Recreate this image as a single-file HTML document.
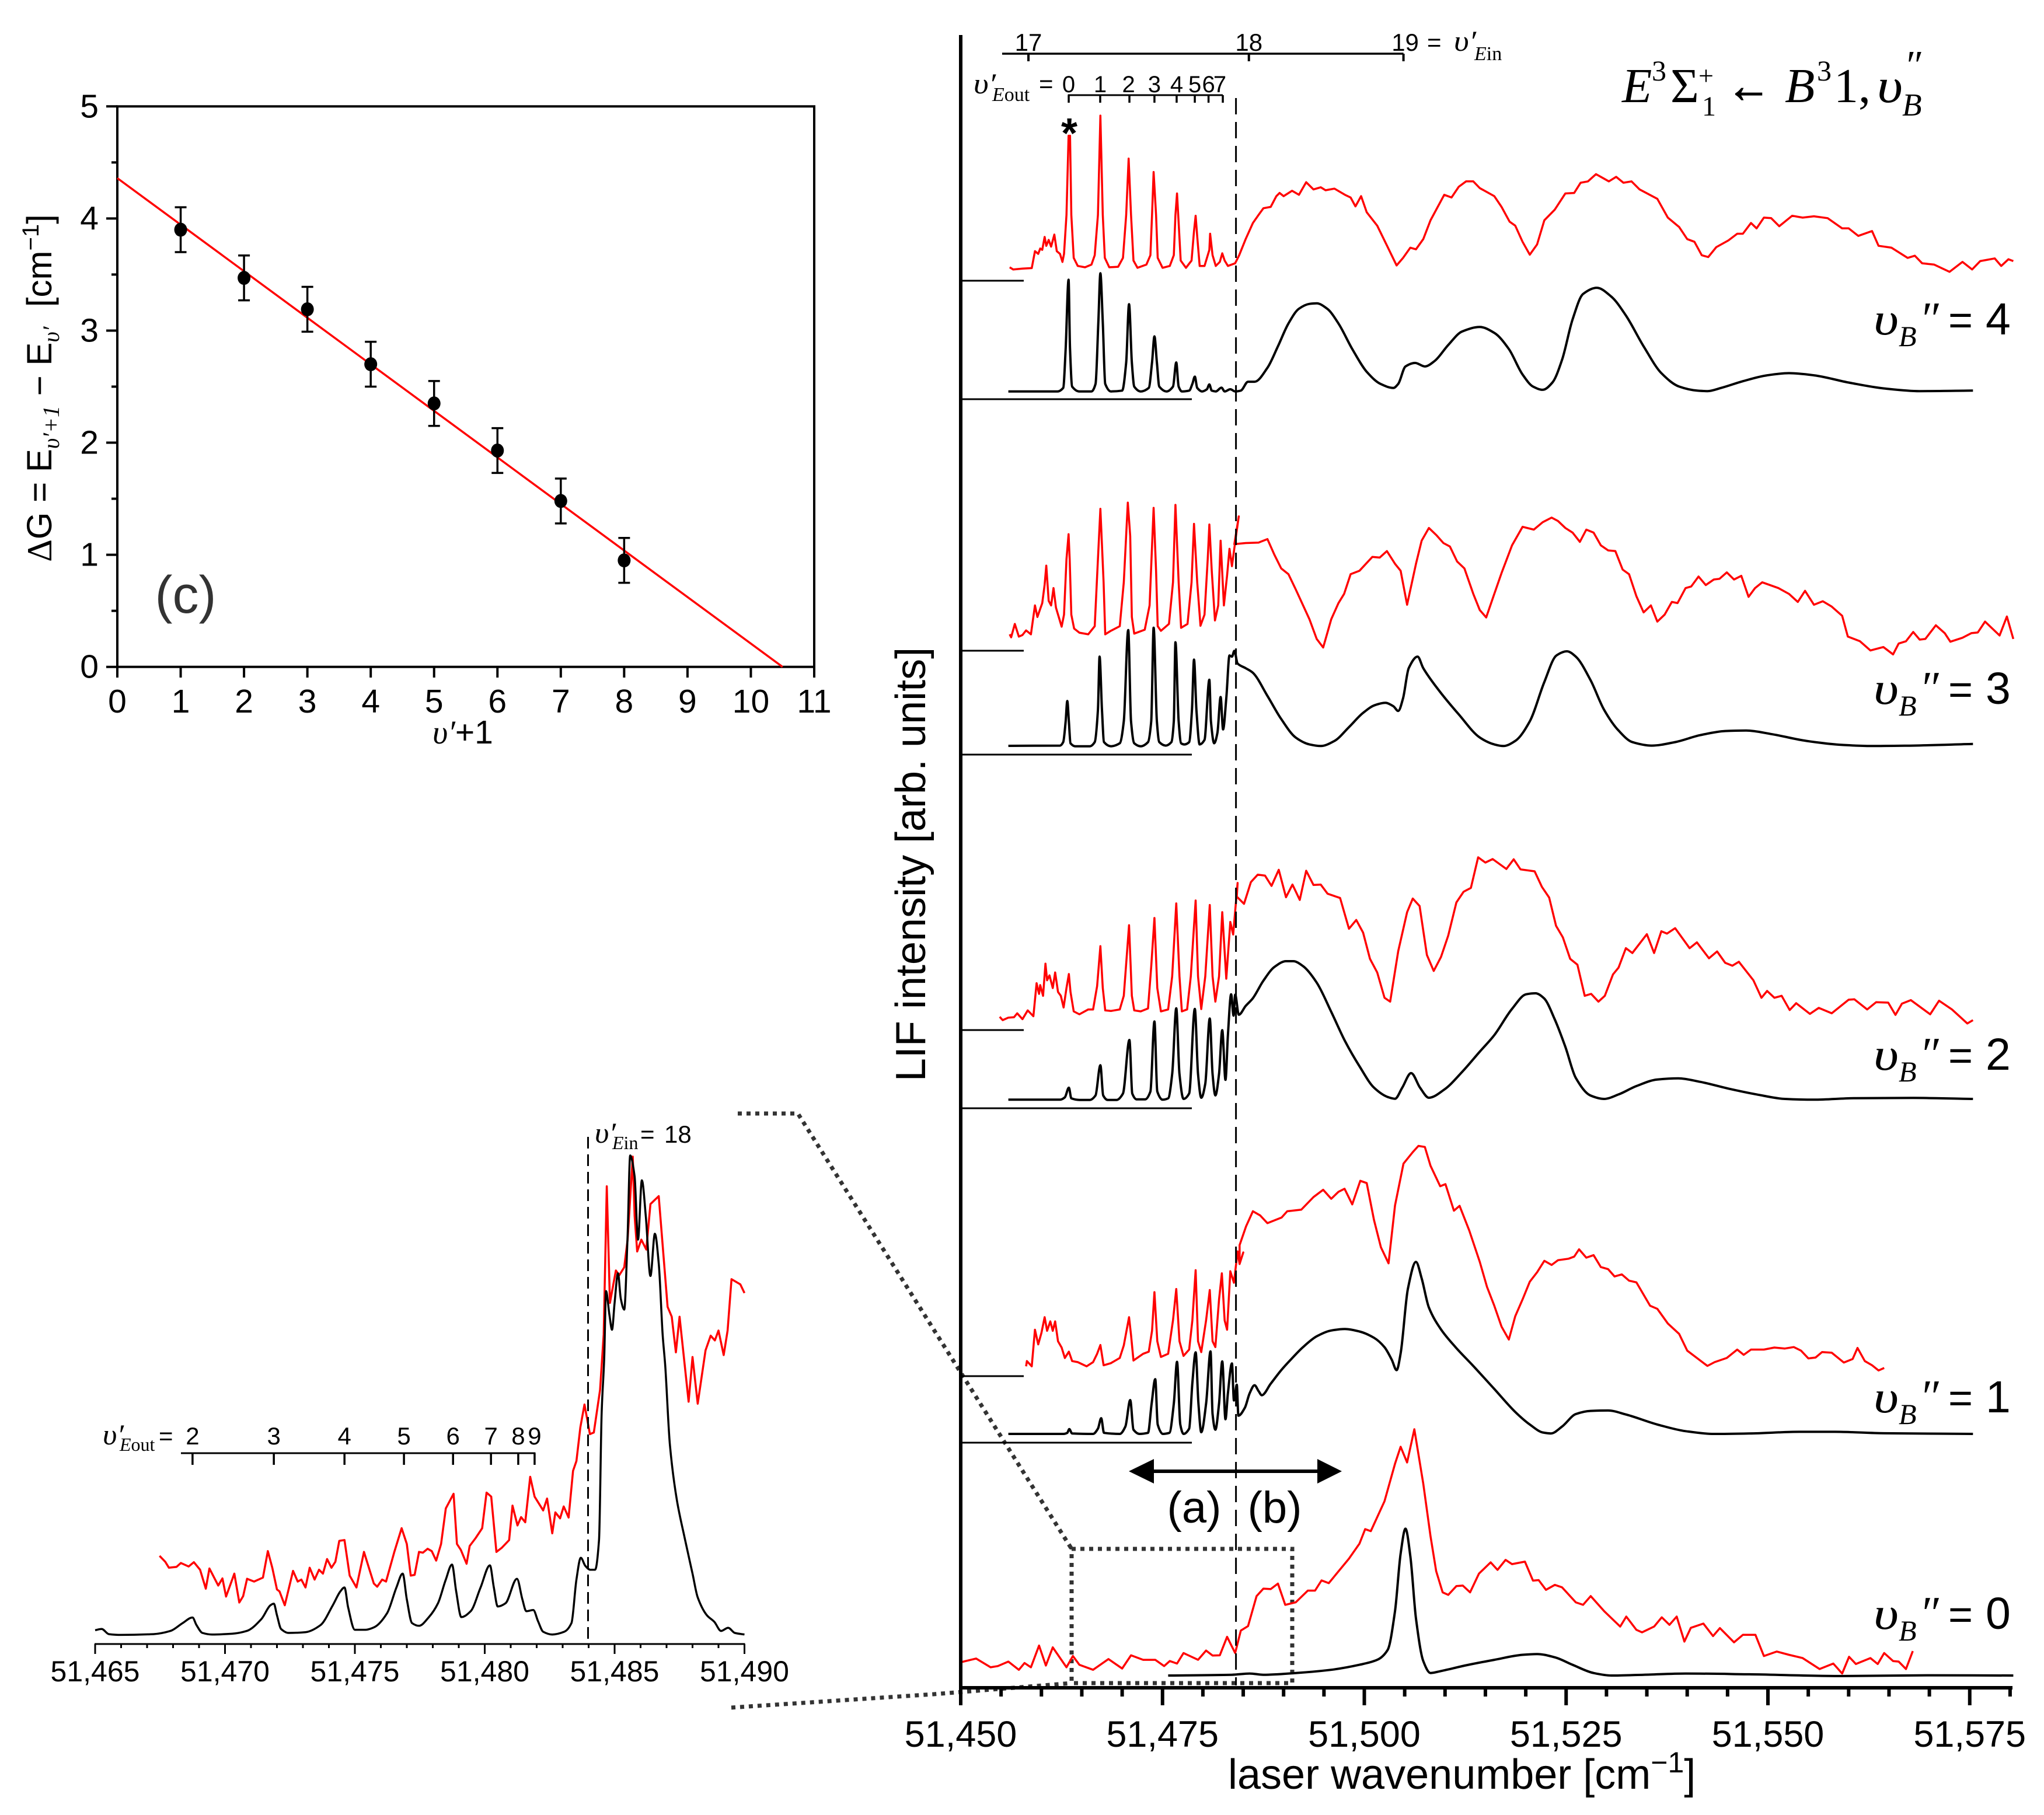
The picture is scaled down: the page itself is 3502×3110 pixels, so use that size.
<!DOCTYPE html>
<html lang="en">
<head>
<meta charset="utf-8">
<title>LIF spectra of the E-B band system</title>
<style>
html,body{margin:0;padding:0;background:#fff}
svg{display:block}
text{font-family:"Liberation Sans",sans-serif;fill:#000}
.s{font-family:"Liberation Serif",serif}
.i{font-family:"Liberation Serif",serif;font-style:italic}
</style>
</head>
<body>
<svg id="fig" xmlns="http://www.w3.org/2000/svg" width="3502" height="3110" viewBox="0 0 3502 3110">
<rect width="3502" height="3110" fill="#fff"/>

<g id="main">
<text transform="translate(1585,1481) rotate(-90)" text-anchor="middle" font-size="72">LIF intensity [arb. units]</text>
<text x="2104" y="3065" font-size="72">laser wavenumber [cm<tspan font-size="50" dy="-28">−1</tspan><tspan dy="28">]</tspan></text>

<g>
<text class="i" x="2491" y="87" font-size="50" textLength="38" lengthAdjust="spacingAndGlyphs">υ′</text>
<text x="2445" y="87" font-size="42">=</text>
<text x="2526" y="103" font-size="34" class="s"><tspan font-style="italic">E</tspan>in</text>
<text class="i" x="1668" y="160" font-size="50" textLength="38" lengthAdjust="spacingAndGlyphs">υ′</text>
<text x="1700" y="173" font-size="34" class="s"><tspan font-style="italic">E</tspan>out</text>
<text x="1780" y="158" font-size="42">=</text>
<text x="1832" y="253" font-size="72" font-weight="bold" text-anchor="middle">*</text>
</g>

<g>
<text class="i" x="2779" y="175" font-size="84">E</text>
<text class="s" x="2830" y="138" font-size="50">3</text>
<text class="s" x="2862" y="175" font-size="84">Σ</text>
<text class="s" x="2910" y="145" font-size="46">+</text>
<text class="s" x="2916" y="198" font-size="48">1</text>
<text class="s" x="2958" y="175" font-size="84" textLength="76" lengthAdjust="spacingAndGlyphs" stroke="#000" stroke-width="1.5">←</text>
<text class="i" x="3058" y="175" font-size="84">B</text>
<text class="s" x="3113" y="138" font-size="50">3</text>
<text class="s" x="3142" y="175" font-size="84">1,</text>
<text class="i" x="3216" y="175" font-size="84" textLength="44" lengthAdjust="spacingAndGlyphs">υ</text>
<text class="i" x="3259" y="198" font-size="55">B</text>
<text class="i" x="3262" y="135" font-size="70">″</text>
</g>

<g id="panelLabels">
<g transform="translate(0,573)"><text class="i" x="3210" font-size="78" textLength="43" lengthAdjust="spacingAndGlyphs">υ</text><text class="i" x="3253" y="20" font-size="50">B</text><text class="i" x="3288" font-size="80">″</text><text x="3338" font-size="72">=</text><text x="3402" font-size="77">4</text></g>
<g transform="translate(0,1206)"><text class="i" x="3210" font-size="78" textLength="43" lengthAdjust="spacingAndGlyphs">υ</text><text class="i" x="3253" y="20" font-size="50">B</text><text class="i" x="3288" font-size="80">″</text><text x="3338" font-size="72">=</text><text x="3402" font-size="77">3</text></g>
<g transform="translate(0,1833)"><text class="i" x="3210" font-size="78" textLength="43" lengthAdjust="spacingAndGlyphs">υ</text><text class="i" x="3253" y="20" font-size="50">B</text><text class="i" x="3288" font-size="80">″</text><text x="3338" font-size="72">=</text><text x="3402" font-size="77">2</text></g>
<g transform="translate(0,2420)"><text class="i" x="3210" font-size="78" textLength="43" lengthAdjust="spacingAndGlyphs">υ</text><text class="i" x="3253" y="20" font-size="50">B</text><text class="i" x="3288" font-size="80">″</text><text x="3338" font-size="72">=</text><text x="3402" font-size="77">1</text></g>
<g transform="translate(0,2791)"><text class="i" x="3210" font-size="78" textLength="43" lengthAdjust="spacingAndGlyphs">υ</text><text class="i" x="3253" y="20" font-size="50">B</text><text class="i" x="3288" font-size="80">″</text><text x="3338" font-size="72">=</text><text x="3402" font-size="77">0</text></g>
</g>

<g>
<line x1="1970" y1="2521" x2="2262" y2="2521" stroke="#000" stroke-width="6"/>
<polygon points="1934,2521 1977,2500 1977,2542" fill="#000"/>
<polygon points="2299,2521 2257,2500 2257,2542" fill="#000"/>
<text x="2046" y="2609" font-size="76" text-anchor="middle">(a)</text>
<text x="2184" y="2609" font-size="76" text-anchor="middle">(b)</text>
</g>

<g fill="none" stroke="#333" stroke-width="7" stroke-dasharray="7 8">
<rect x="1836" y="2654" width="378" height="230"/>
<polyline points="1264,1908 1367,1908 1836,2654"/>
<polyline points="1253,2926 1600,2903 1836,2884"/>
</g>
</g>

<g id="inset">
<text class="i" x="1019" y="1958" font-size="50" textLength="36" lengthAdjust="spacingAndGlyphs">υ′</text>
<text class="s" x="1049" y="1969" font-size="32"><tspan font-style="italic">E</tspan>in</text>
<text x="1097" y="1958" font-size="42">=</text>
<text x="1138" y="1958" font-size="42">18</text>
<text class="i" x="176" y="2475" font-size="50" textLength="36" lengthAdjust="spacingAndGlyphs">υ′</text>
<text class="s" x="205" y="2486" font-size="32"><tspan font-style="italic">E</tspan>out</text>
<text x="272" y="2475" font-size="42">=</text>
</g>

<g id="fit">
<text transform="translate(88,665) rotate(-90)" text-anchor="middle" font-size="60"><tspan class="s">Δ</tspan>G = E<tspan class="i" font-size="40" dy="13">υ′+1</tspan><tspan dy="-13"> − E</tspan><tspan class="i" font-size="40" dy="13">υ′</tspan><tspan dy="-13">&#160;&#160;[cm</tspan><tspan font-size="40" dy="-22">−1</tspan><tspan dy="22">]</tspan></text>
<text x="793" y="1274" font-size="57" text-anchor="middle"><tspan class="i">υ′</tspan>+1</text>
<text x="318" y="1050" font-size="90" text-anchor="middle" style="fill:#333">(c)</text>
</g>

<script>
// ---------- Main chart: wavenumber shift from 51,450 cm-1 and intensity (arb. units) ----------
const redV4 = [[6.07,50],[6.5,42],[7.65,45],[8.8,47],[9.2,110],[9.6,100],[9.85,120],[10.1,115],[10.4,163],[10.6,130],[10.9,152],[11.2,127],[11.6,172],[11.9,110],[12.3,100],[12.6,70],[12.8,100],[13.1,245],[13.36,540],[13.54,540],[13.7,245],[14,85],[14.5,55],[15.4,50],[16.2,60],[16.6,95],[17,245],[17.3,615],[17.6,245],[17.85,85],[18.4,50],[19.5,52],[20.1,85],[20.5,245],[20.8,455],[21.1,245],[21.4,75],[21.9,48],[23,60],[23.5,95],[23.7,245],[23.9,405],[24.2,245],[24.4,85],[25,48],[25.9,55],[26.4,95],[26.6,245],[26.8,325],[27,215],[27.25,75],[27.9,48],[28.6,75],[28.9,185],[29.1,242],[29.3,165],[29.6,55],[30.2,55],[30.8,115],[30.9,175],[31.2,95],[31.6,55],[32.1,70],[32.4,102],[32.7,75],[33.1,55],[34,65],[34.5,95],[35.3,155],[36.2,215],[36.9,245],[37.5,270],[38.4,275],[39.1,315],[39.5,327],[40,315],[41.05,335],[41.9,320],[42.8,367],[43.7,340],[44.6,348],[45.2,337],[46.3,343],[47.6,320],[48.3,310],[48.9,277],[49.6,315],[50.3,255],[51.6,205],[52.9,125],[54,57],[54.8,85],[55.7,123],[56.4,117],[57.3,155],[58.2,225],[59.9,320],[60.8,310],[61.7,350],[62.6,370],[63.5,370],[64.3,345],[66.1,315],[67,275],[68,220],[68.7,205],[69.6,145],[70.5,97],[71.4,135],[72.3,225],[73.6,265],[74.9,325],[76,327],[76.8,365],[77.7,370],[78.7,397],[79.7,380],[80.3,370],[81.2,387],[82.1,365],[83.1,370],[84.1,340],[86.3,305],[87.6,235],[89,200],[90,155],[90.9,145],[91.8,95],[92.6,88],[93.6,125],[95.1,150],[96.2,175],[96.9,175],[97.9,215],[98.6,195],[99.5,235],[100.4,233],[101.4,203],[103,242],[104.3,235],[105.7,240],[107.4,233],[109.2,195],[110,195],[111.2,167],[112.9,185],[113.7,130],[115.3,123],[117.3,85],[118.2,93],[119.1,65],[120.6,60],[122.5,33],[124.1,70],[125.3,42],[126.3,73],[128.1,83],[128.9,55],[129.8,80],[130.4,73]];
const blackV4 = [[5.9,29],[12,29],[12.7,42],[13,187],[13.36,445],[13.54,187],[13.8,47],[14.7,29],[16.2,29],[16.7,57],[17.05,287],[17.3,469],[17.6,287],[17.9,57],[18.6,29],[20,32],[20.5,137],[20.85,354],[21.2,137],[21.5,47],[22.3,29],[23.3,42],[23.7,137],[24,234],[24.3,137],[24.6,47],[25.5,29],[26.3,47],[26.7,137],[27,47],[27.4,29],[28.3,32],[28.7,57],[29,84],[29.3,42],[29.9,29],[30.5,37],[30.8,55],[31.1,32],[31.6,29],[32.3,43],[32.7,29],[33.4,37],[34,29],[34.7,32],[35.6,65],[36.4,65],[38,117],[39.3,197],[40.6,282],[41.9,337],[43.2,355],[44.1,357],[45.4,337],[46.8,282],[48.5,187],[50.3,102],[52,57],[53.6,42],[54.2,57],[55.1,122],[56.3,135],[57.5,122],[58.7,142],[60.4,202],[62.1,252],[64.3,269],[66.1,247],[67.9,187],[69.6,92],[70.9,47],[72.1,35],[73.3,62],[74.5,147],[75.8,297],[77.1,392],[78.8,415],[80.6,382],[82.4,312],[84.6,197],[86.8,97],[89,47],[91.2,32],[92.5,30],[94.2,42],[96.9,67],[99.9,89],[102.6,97],[105.7,89],[110,62],[114.4,40],[118.8,30],[125.4,32]];
const redV3 = [[6.07,71],[6.25,58],[6.7,116],[7.2,61],[7.65,68],[8.1,88],[8.7,71],[9.2,196],[9.5,146],[9.85,181],[10.1,206],[10.4,286],[10.6,368],[10.9,216],[11.2,196],[11.5,271],[11.8,186],[12.5,104],[12.8,156],[13.1,396],[13.36,504],[13.5,396],[13.7,156],[14.05,96],[14.7,78],[15.8,71],[16.6,106],[17,396],[17.3,614],[17.7,296],[17.9,71],[18.6,86],[19.7,106],[20.2,296],[20.7,641],[21,496],[21.2,146],[21.5,74],[22.8,91],[23.4,196],[23.9,618],[24.2,346],[24.4,106],[24.8,86],[25.8,116],[26.3,296],[26.6,631],[27,296],[27.3,99],[28.1,116],[28.6,296],[28.9,549],[29.3,296],[29.7,108],[30.2,156],[30.6,396],[30.8,546],[31.1,346],[31.5,131],[31.9,196],[32.2,476],[32.6,196],[33,326],[33.3,441],[33.6,366],[34.1,496],[34.45,581],[33.9,461],[35.3,466],[36.9,468],[38,483],[38.85,416],[39.7,356],[40.6,331],[41.5,266],[43.2,136],[44.1,51],[44.9,14],[45.9,136],[46.8,206],[47.5,246],[48.3,331],[49.4,346],[51,406],[51.9,403],[52.8,431],[53.8,376],[54.5,346],[55.3,199],[56.4,376],[57.1,476],[58,531],[58.9,501],[59.8,466],[60.6,451],[61.5,386],[62.4,356],[63.5,246],[64.3,176],[65.1,144],[66.1,246],[67,336],[68.3,456],[69.6,536],[71,524],[72.1,556],[73.2,576],[74,561],[74.9,531],[75.8,511],[76.7,471],[77.5,524],[78.4,511],[79.3,456],[80.2,434],[81.1,431],[82,351],[82.8,331],[83.7,236],[84.6,166],[85.5,196],[86.3,126],[87.2,156],[88.1,211],[88.8,206],[89.8,271],[90.5,278],[91.4,321],[92.3,284],[93.3,308],[94,311],[94.9,339],[95.8,308],[96.7,324],[97.6,233],[98.4,271],[99.3,296],[101.3,271],[102.6,246],[103.7,211],[104.6,259],[105.7,199],[106.8,214],[107.9,191],[109.2,151],[109.9,61],[111.4,41],[112.7,1],[114.3,16],[115.5,-16],[116.2,31],[117.1,41],[118,81],[118.8,48],[119.5,51],[120.8,110],[121.9,76],[122.6,39],[124.1,56],[125.2,76],[126,79],[126.9,126],[128.7,66],[129.6,148],[130.4,51]];
const blackV3 = [[5.9,38],[12.3,39],[12.7,54],[13,144],[13.2,232],[13.4,144],[13.6,49],[14.2,36],[16,36],[16.6,54],[17,194],[17.2,424],[17.5,194],[17.75,54],[18.6,36],[19.7,49],[20.2,144],[20.75,539],[21.1,144],[21.5,49],[22.3,36],[23.2,54],[23.6,144],[23.9,549],[24.3,144],[24.6,54],[25.4,39],[26.1,54],[26.4,144],[26.6,486],[27,144],[27.3,49],[27.7,44],[28.3,54],[28.65,194],[28.9,411],[29.2,194],[29.6,44],[30.2,64],[30.8,324],[31,144],[31.4,49],[31.8,94],[32.2,249],[32.5,109],[32.9,244],[33.3,429],[33.6,424],[33.9,449],[34.3,394],[35.3,374],[36.2,354],[38,254],[39.7,154],[41.5,74],[43.2,44],[44.6,37],[46.3,59],[48.1,119],[49.8,179],[51.3,214],[52.6,224],[53.6,209],[54.2,189],[54.8,244],[55.5,374],[56.6,424],[57.3,374],[59.1,284],[61.7,174],[64.3,74],[66.1,44],[67.2,37],[68.7,59],[70.5,144],[72.3,314],[73.8,429],[75.1,447],[76.2,424],[78,324],[79.7,194],[81.5,104],[83.2,54],[85.6,39],[88.5,54],[91.6,84],[94.7,102],[97.3,104],[100.4,89],[104.8,59],[109.2,42],[112.7,37],[118,39],[125.4,46]];
const redV2 = [[4.83,68],[5.2,51],[5.9,64],[6.6,66],[7,86],[7.65,56],[8.3,101],[9,71],[9.4,241],[9.7,186],[9.85,231],[10.2,176],[10.5,341],[10.7,256],[11,281],[11.4,216],[11.7,296],[12.05,196],[12.4,176],[12.75,116],[13.1,216],[13.4,288],[13.6,196],[14,96],[14.7,81],[15.8,106],[16.4,106],[16.9,226],[17.3,431],[17.6,216],[17.9,101],[18.6,98],[19.7,106],[20.2,176],[20.85,539],[21.2,176],[21.5,101],[22.3,96],[23.2,111],[23.6,326],[24,576],[24.35,216],[24.8,96],[25.7,106],[26.2,276],[26.7,651],[27.1,276],[27.4,96],[28.05,106],[28.5,276],[29.1,666],[29.4,276],[29.8,108],[30.3,276],[30.85,643],[31.2,276],[31.55,146],[32,276],[32.4,606],[32.9,264],[33.4,556],[33.75,491],[34.3,756],[34.2,686],[35.1,649],[35.95,761],[36.8,799],[37.7,794],[38.5,741],[39.4,824],[40.3,683],[41.1,748],[42,669],[42.8,819],[43.7,746],[44.6,748],[45.45,701],[47,679],[48.1,521],[49,566],[49.85,501],[50.7,366],[51.6,296],[52.5,166],[53.2,146],[54.2,406],[55.3,606],[56,676],[56.85,638],[57.75,386],[58.6,304],[59.5,376],[60.4,486],[61.4,656],[62.3,711],[63.2,731],[64.1,888],[65,861],[65.9,879],[67.6,828],[68.5,878],[69.35,826],[71.1,816],[72,736],[72.9,681],[73.75,536],[74.6,476],[75.5,366],[76.4,336],[77.3,176],[78.1,186],[79,146],[79.8,176],[80.8,286],[81.5,321],[82.4,421],[83.2,396],[85,493],[85.9,396],[86.8,508],[87.5,496],[88.5,524],[90.3,421],[91.2,451],[92.7,369],[93.7,404],[94.7,346],[95.6,331],[96.4,351],[98.2,256],[99.2,166],[99.9,201],[100.8,166],[101.7,176],[102.7,103],[103.5,138],[105.2,83],[106.3,114],[107.9,86],[110,156],[110.7,158],[112.3,106],[113.4,143],[114.9,141],[115.8,78],[116.6,136],[117.7,154],[120.1,81],[121.2,151],[122.8,106],[124.7,34],[125.4,51]];
const blackV2 = [[5.9,44],[12.3,44],[12.9,56],[13.4,106],[13.7,51],[14.7,43],[16,43],[16.7,66],[17.3,221],[17.65,66],[18.2,43],[19.3,43],[20.1,76],[20.9,351],[21.25,76],[21.8,46],[22.85,46],[23.5,86],[24,446],[24.35,86],[25,44],[25.7,51],[26.2,176],[26.7,514],[27.1,176],[27.6,48],[28.3,76],[29,511],[29.4,176],[29.8,54],[30.3,126],[30.85,461],[31.2,176],[31.55,66],[32,176],[32.4,401],[32.8,146],[33.1,376],[33.5,586],[33.8,476],[34,584],[34.45,481],[35.3,526],[36.2,566],[37.5,656],[38.85,726],[40.3,756],[41.2,756],[42.4,731],[44.1,646],[45.9,496],[47.6,346],[49.4,216],[51.2,106],[52.9,58],[53.8,49],[54.7,106],[55.8,181],[56.9,106],[58,54],[59.9,96],[62.1,186],[64.3,291],[66.1,376],[68.3,511],[70.05,586],[71.2,591],[72.25,566],[73.6,456],[74.9,316],[76.2,156],[78,66],[79.7,48],[81.5,71],[83.7,114],[86.3,148],[88.9,154],[91.6,136],[95.1,101],[98.6,71],[102.1,48],[105.7,44],[110.9,52],[118,53],[125.4,48]];
const redV1 = [[8.1,47],[8.2,72],[8.8,47],[9.2,222],[9.6,152],[10,207],[10.4,282],[10.7,217],[11.1,262],[11.4,217],[11.7,262],[12.05,167],[12.5,137],[12.9,87],[13.4,117],[13.8,72],[14.5,67],[15.6,47],[16.4,67],[16.9,107],[17.3,149],[17.7,52],[18.6,62],[19.7,87],[20.2,147],[20.85,282],[21.1,197],[21.4,75],[22.6,107],[23.3,117],[23.7,217],[24,402],[24.35,167],[24.8,92],[25.7,107],[26.3,267],[26.7,417],[27.1,167],[27.6,97],[28.3,127],[28.7,267],[29.1,507],[29.4,167],[29.8,115],[30.4,267],[30.85,412],[31.2,167],[31.55,139],[32,367],[32.35,492],[32.7,267],[33,222],[33.4,502],[33.85,447],[34.3,597],[34.55,537],[35,592],[34.55,537],[34.55,627],[35.35,717],[36.2,789],[37.1,769],[38,732],[39.75,759],[40.45,789],[42.2,797],[43.7,857],[44.9,892],[45.9,849],[46.8,882],[47.55,897],[48.5,822],[49.5,935],[50.3,924],[51.2,747],[52.05,617],[53,540],[53.8,817],[54.85,1017],[56,1072],[56.7,1102],[57.5,1097],[58.2,1007],[59.4,909],[60.05,919],[61.1,792],[61.8,815],[63,697],[64.3,547],[65.2,427],[66.1,337],[67,237],[67.9,175],[68.7,287],[69.6,367],[70.5,452],[71.4,497],[72.3,552],[73.2,532],[74,555],[75.3,562],[76,572],[76.6,607],[77.5,567],[78.4,579],[79.3,522],[80.2,512],[81,477],[81.9,487],[82.8,457],[83.7,449],[85.4,337],[86.3,322],[87.6,252],[89,202],[90,122],[91.2,87],[92.5,49],[93.4,67],[94.9,87],[96.2,127],[97,102],[97.9,127],[99.5,127],[100.8,137],[102.1,132],[103.2,139],[104.1,122],[105,85],[105.9,89],[106.7,115],[107.9,112],[109.4,65],[110.5,82],[111.1,135],[112,72],[112.9,52],[113.7,27],[114.4,39]];
const blackV1 = [[5.9,42],[12.75,42],[13.2,47],[13.45,65],[13.8,44],[16.4,42],[17,67],[17.4,117],[17.75,47],[19.7,42],[20.4,77],[21,204],[21.4,62],[22.15,42],[23.2,47],[23.65,187],[24.1,304],[24.4,87],[25.05,42],[25.85,47],[26.4,187],[26.8,387],[27.2,87],[27.6,42],[28.3,67],[28.7,287],[29.1,432],[29.45,187],[29.8,50],[30.4,187],[30.95,437],[31.2,137],[31.55,62],[32,187],[32.4,389],[32.8,112],[33.1,237],[33.6,379],[33.85,202],[34.2,277],[34.4,129],[35.2,167],[35.8,237],[36.4,275],[36.9,247],[37.3,227],[38.4,282],[39.7,347],[41,402],[42.4,457],[44.1,509],[45.9,537],[47.6,544],[49.4,532],[51.2,502],[52.5,457],[53.4,397],[54,347],[54.5,427],[55.4,737],[56.4,865],[57.1,787],[58,647],[59.5,542],[61.3,457],[63.5,367],[66.1,257],[68.7,147],[70.5,87],[72.1,49],[73.1,44],[74.5,77],[76.2,137],[78,152],[80.2,154],[82.4,135],[86.3,87],[89.8,55],[93.3,42],[97.7,44],[103.9,52],[108.3,52],[114.4,45],[125.4,42]];
const redV0 = [[0,102],[1.9,117],[3.7,82],[4.6,87],[5.9,105],[7.2,72],[7.9,99],[8.7,82],[9.7,169],[10.55,89],[11.4,162],[13.1,82],[13.9,127],[14.7,92],[16.4,72],[18.3,115],[20,77],[21.1,130],[22.6,112],[24.1,112],[25.2,87],[25.9,107],[26.8,97],[27.6,139],[29.4,112],[30.4,149],[31.2,129],[32.1,130],[33,204],[34,139],[34.7,229],[35.6,247],[36.65,367],[37.5,397],[38.4,395],[39.3,417],[40.2,332],[41.5,342],[43,389],[43.9,389],[44.7,430],[45.6,419],[48.1,517],[49.4,577],[50.1,635],[50.8,627],[52.5,747],[53.8,897],[54.5,965],[55.3,902],[56.2,1035],[57.3,817],[58.2,607],[58.9,467],[59.7,382],[60.4,372],[61.4,407],[62.2,409],[63.1,382],[64.2,457],[65.65,502],[66.5,472],[67.5,512],[68.3,495],[69.9,505],[70.9,429],[71.6,431],[72.5,392],[73.6,412],[74.5,402],[76.2,342],[77.1,332],[78.05,367],[79.7,307],[81.7,245],[82.45,285],[83.7,232],[84.4,222],[85.9,245],[86.85,282],[87.8,252],[88.7,285],[89.65,185],[90.45,240],[92,257],[93.2,207],[94.05,239],[95.8,182],[96.9,212],[98.45,212],[99.5,127],[101.1,145],[102.6,132],[104.3,119],[106.4,75],[108.1,97],[109.2,57],[110.05,124],[110.9,95],[112.7,119],[113.6,95],[114.4,139],[115.5,107],[116.2,105],[117.1,75],[117.95,147]];
const blackV0 = [[25.7,49],[33.6,52],[35.8,57],[37.5,52],[41.5,59],[45.9,72],[49.4,92],[51.6,112],[52.9,152],[53.8,307],[54.5,537],[55.1,637],[55.7,527],[56.4,277],[57.3,107],[58.2,59],[59.5,67],[62.6,90],[66.1,112],[69.6,132],[71.4,135],[73.6,122],[75.8,92],[78.4,59],[80.6,49],[84.6,52],[89.8,57],[97.7,54],[109.2,47],[119.7,50],[130.4,49]];

const mainTickValues = [51450,51475,51500,51525,51550,51575];
const mainTickLabels = ["51,450","51,475","51,500","51,525","51,550","51,575"];
const einShift = [8.39,35.7,54.85];
const einLabels = ["17","18","19"];
const eoutShift = [13.38,17.28,20.9,24,26.75,29,30.7,32.47];
const eoutLabels = ["0","1","2","3","4","5","6","7"];
const eoutLabelShift = [13.38,17.28,20.8,24,26.75,29,30.7,32.1];
const dashShift = [34.1];

// ---------- Inset chart: shift from 51,465 cm-1 ----------
const insetBlack = [[0,35],[0.25,38],[0.53,25],[1,23],[2.24,25],[2.9,33],[3.37,53],[3.75,67],[3.9,48],[4.13,28],[4.5,24],[5.27,26],[5.84,33],[6.4,63],[6.75,98],[6.88,102],[7,73],[7.16,38],[7.45,28],[8.1,30],[8.68,48],[9.15,98],[9.44,133],[9.6,143],[9.74,93],[10,36],[10.4,36],[10.76,43],[11.24,78],[11.6,143],[11.84,178],[12,113],[12.2,53],[12.47,46],[12.85,68],[13.2,103],[13.5,163],[13.74,201],[13.9,133],[14.1,68],[14.46,83],[14.84,143],[15.2,199],[15.35,143],[15.5,95],[15.8,103],[16.24,165],[16.45,113],[16.6,83],[16.87,86],[17.05,58],[17.25,31],[17.6,24],[18.06,31],[18.34,53],[18.53,163],[18.7,218],[18.87,198],[19.06,188],[19.25,188],[19.4,263],[19.5,583],[19.6,723],[19.67,893],[19.8,833],[19.9,795],[20,863],[20.13,938],[20.24,873],[20.37,846],[20.5,1033],[20.6,1236],[20.77,1183],[20.9,1023],[21.05,1173],[21.2,1083],[21.38,931],[21.55,1038],[21.7,963],[21.85,783],[21.95,703],[22.13,503],[22.4,363],[22.7,268],[23,178],[23.2,118],[23.55,73],[23.84,56],[24.1,33],[24.37,41],[24.63,28],[25,24]];
const insetRed = [[2.48,223],[2.7,208],[2.84,193],[3.13,195],[3.3,205],[3.6,196],[3.8,207],[4.04,188],[4.26,140],[4.4,191],[4.74,148],[4.9,166],[5.04,120],[5.36,178],[5.55,105],[5.7,121],[5.85,165],[6.12,158],[6.46,168],[6.65,235],[6.82,193],[7,138],[7.1,133],[7.3,98],[7.62,185],[7.8,158],[7.94,163],[8.1,143],[8.26,193],[8.45,163],[8.62,188],[8.77,178],[8.93,215],[9.1,193],[9.25,208],[9.4,261],[9.6,263],[9.8,173],[10.06,143],[10.35,233],[10.54,193],[10.73,153],[10.86,145],[11.05,163],[11.2,158],[11.52,233],[11.8,293],[12,253],[12.15,173],[12.3,175],[12.47,233],[12.62,231],[12.8,241],[12.96,235],[13.13,211],[13.32,253],[13.5,343],[13.8,380],[13.93,253],[14.08,238],[14.3,203],[14.42,248],[14.65,268],[14.9,293],[15.07,383],[15.25,373],[15.45,233],[15.65,243],[15.94,263],[16.07,350],[16.26,300],[16.4,321],[16.56,308],[16.75,423],[16.92,373],[17.25,338],[17.4,368],[17.6,280],[17.72,333],[17.9,318],[18.04,348],[18.23,320],[18.4,438],[18.53,463],[18.68,548],[18.84,606],[19.05,531],[19.2,535],[19.44,643],[19.58,783],[19.7,1158],[19.82,863],[20.05,945],[20.18,933],[20.37,953],[20.5,1023],[20.7,1233],[20.77,1083],[20.87,993],[21.03,1023],[21.22,998],[21.38,1113],[21.7,1133],[22.04,853],[22.2,828],[22.36,738],[22.5,828],[22.85,613],[23,726],[23.2,608],[23.5,743],[23.7,780],[23.86,768],[24,793],[24.2,731],[24.35,793],[24.5,923],[24.84,910],[25,888]];
const insetTickValues = [51465,51470,51475,51480,51485,51490];
const insetTickLabels = ["51,465","51,470","51,475","51,480","51,485","51,490"];
const insetLevels = [3.75,6.88,9.6,11.89,13.78,15.24,16.29,16.92];
const insetLevelLabels = ["2","3","4","5","6","7","8","9"];
const insetDashShift = [19.0];

// ---------- Delta-G plot ----------
const levelNumbers = [1,2,3,4,5,6,7,8];
const deltaG = [3.9,3.47,3.19,2.7,2.35,1.93,1.48,0.95];
const deltaGError = [0.2,0.2,0.2,0.2,0.2,0.2,0.2,0.2];
const fitLineX = [0,10.5];
const fitLineY = [4.36,0];
const fitXTicks = [0,1,2,3,4,5,6,7,8,9,10,11];
const fitYTicks = [0,1,2,3,4,5];
const fitYMinorTicks = [0.5,1.5,2.5,3.5,4.5];

// ---------- Drawing ----------
const SVGNS = "http://www.w3.org/2000/svg";
const mainG = document.getElementById("main");
const insetG = document.getElementById("inset");
const fitG = document.getElementById("fit");

function mk(tag, attrs, parent) {
  const el = document.createElementNS(SVGNS, tag);
  for (const k in attrs) el.setAttribute(k, attrs[k]);
  parent.appendChild(el);
  return el;
}
const xMain = wn => 1646 + (wn - 51450) * 13.83;
const xInset = wn => 163 + (wn - 51465) * 44.5;
const xFit = v => 201 + v * 1194 / 11;
const yFit = v => 1142.7 - v * 960.4 / 5;

function tracePoints(data, xf, base, scale, origin) {
  return data.map(p => xf(origin + p[0]).toFixed(1) + "," + (base - p[1] * scale).toFixed(1)).join(" ");
}
function drawTrace(data, xf, base, scale, origin, color, width, parent, name) {
  const el = mk("polyline", {points: tracePoints(data, xf, base, scale, origin), fill: "none", stroke: color, "stroke-width": width, "stroke-linejoin": "round"}, parent);
  
  
}
// Monotone cubic path so the simulated curves stay smooth without overshoot
function smoothPath(pts) {
  const n = pts.length, m = new Array(n), s = [];
  for (let i = 0; i < n - 1; i++) s[i] = (pts[i + 1][1] - pts[i][1]) / (pts[i + 1][0] - pts[i][0]);
  m[0] = s[0];
  m[n - 1] = s[n - 2];
  for (let i = 1; i < n - 1; i++) m[i] = s[i - 1] * s[i] <= 0 ? 0 : 2 * s[i - 1] * s[i] / (s[i - 1] + s[i]);
  let d = "M" + pts[0][0].toFixed(1) + "," + pts[0][1].toFixed(1);
  for (let i = 0; i < n - 1; i++) {
    const h = (pts[i + 1][0] - pts[i][0]) / 3;
    d += "C" + (pts[i][0] + h).toFixed(1) + "," + (pts[i][1] + m[i] * h).toFixed(1) + " " +
         (pts[i + 1][0] - h).toFixed(1) + "," + (pts[i + 1][1] - m[i + 1] * h).toFixed(1) + " " +
         pts[i + 1][0].toFixed(1) + "," + pts[i + 1][1].toFixed(1);
  }
  return d;
}
function drawSmooth(data, xf, base, scale, origin, width, parent, name) {
  const pts = data.map(p => [xf(origin + p[0]), base - p[1] * scale]);
  const el = mk("path", {d: smoothPath(pts), fill: "none", stroke: "#000", "stroke-width": width, "stroke-linejoin": "round"}, parent);
  
  
}
function drawLine(x1, y1, x2, y2, width, parent, name, extra) {
  const el = mk("line", Object.assign({x1, y1, x2, y2, stroke: "#000", "stroke-width": width}, extra || {}), parent);
  
  
  return el;
}
function drawText(x, y, str, size, anchor, parent, name) {
  const el = mk("text", {x, y, "font-size": size, "text-anchor": anchor}, parent);
  el.textContent = str;
  
  
  return el;
}

// main traces
drawTrace(redV4, xMain, 481, 0.46, 51450, "#f00", 3.5, mainG, "measured-trace-v4");
drawSmooth(blackV4, xMain, 684, 0.46, 51450, 4, mainG, "simulated-trace-v4");
drawTrace(redV3, xMain, 1115, 0.396, 51450, "#f00", 3.5, mainG, "measured-trace-v3");
drawSmooth(blackV3, xMain, 1293, 0.396, 51450, 4, mainG, "simulated-trace-v3");
drawTrace(redV2, xMain, 1765, 0.3333, 51450, "#f00", 3.5, mainG, "measured-trace-v2");
drawSmooth(blackV2, xMain, 1899, 0.3333, 51450, 4, mainG, "simulated-trace-v2");
drawTrace(redV1, xMain, 2358, 0.358, 51450, "#f00", 3.5, mainG, "measured-trace-v1");
drawSmooth(blackV1, xMain, 2472, 0.358, 51450, 4, mainG, "simulated-trace-v1");
drawTrace(redV0, xMain, 2892, 0.428, 51450, "#f00", 3.5, mainG, "measured-trace-v0");
drawSmooth(blackV0, xMain, 2892, 0.428, 51450, 4, mainG, "simulated-trace-v0");

// main axes
drawLine(1646, 60, 1646, 2922, 6, mainG, "main-y-axis");
drawLine(1643, 2892, 3448, 2892, 6, mainG, "main-x-axis");
for (let wn = 51450; wn <= 51580; wn += 5) {
  const major = (wn - 51450) % 25 === 0;
  if (wn === 51450) continue;
  drawLine(xMain(wn), 2892, xMain(wn), major ? 2922 : 2907, 6, mainG, major ? "main-x-major-tick" : "main-x-minor-tick");
}
mainTickValues.forEach((v, i) => {
  drawText(xMain(v), 2993, mainTickLabels[i], 63, "middle", mainG, "main-x-tick-label");
});

// baseline markers
[481, 1115, 1765, 2358].forEach(y => drawLine(1646, y, 1754, y, 3, mainG, "measured-baseline-marker"));
[684, 1293, 1899, 2472].forEach(y => drawLine(1646, y, 2042, y, 3, mainG, "simulated-baseline-marker"));

// dashed v'Ein = 18 line
dashShift.forEach(s => drawLine(xMain(51450 + s), 168, xMain(51450 + s), 2888, 3, mainG, "ein-18-dashed-line", {"stroke-dasharray": "28 13"}));

// top ladders
drawLine(xMain(51450 + 5.13), 92, xMain(51450 + einShift[2]), 92, 3.5, mainG, "ein-ladder-line");
einShift.forEach((s, i) => {
  drawLine(xMain(51450 + s), 92, xMain(51450 + s), 105, 4, mainG, "ein-ladder-tick");
  drawText(xMain(51450 + s) + (i === 2 ? 3 : 0), 87, einLabels[i], 42, "middle", mainG, "ein-level-label");
});
drawLine(xMain(51450 + eoutShift[0]) - 1.5, 163, xMain(51450 + eoutShift[7]), 163, 3, mainG, "eout-ladder-line");
eoutShift.forEach((s, i) => {
  drawLine(xMain(51450 + s), 163, xMain(51450 + s), 176, 3.5, mainG, "eout-ladder-tick");
  drawText(xMain(51450 + eoutLabelShift[i]), 158, eoutLabels[i], 40, "middle", mainG, "eout-level-label");
});

// inset
drawTrace(insetRed, xInset, 2817, 0.6773, 51465, "#f00", 3.5, insetG, "inset-measured-trace");
drawSmooth(insetBlack, xInset, 2817, 0.6773, 51465, 3.5, insetG, "inset-simulated-trace");
drawLine(xInset(51465) - 1, 2817, xInset(51490) + 1, 2817, 3, insetG, "inset-x-axis");
for (let wn = 51465; wn <= 51490; wn++) {
  const major = (wn - 51465) % 5 === 0;
  drawLine(xInset(wn), 2817, xInset(wn), major ? 2834 : 2824, 3, insetG, major ? "inset-x-major-tick" : "inset-x-minor-tick");
}
insetTickValues.forEach((v, i) => {
  drawText(xInset(v), 2881, insetTickLabels[i], 50, "middle", insetG, "inset-x-tick-label");
});
insetDashShift.forEach(s => drawLine(xInset(51465 + s) - 1, 1948, xInset(51465 + s) - 1, 2817, 3, insetG, "inset-ein-dashed-line", {"stroke-dasharray": "20 10"}));
drawLine(310, 2490, xInset(51465 + insetLevels[7]) + 1.5, 2490, 3, insetG, "inset-eout-ladder-line");
insetLevels.forEach((s, i) => {
  drawLine(xInset(51465 + s), 2490, xInset(51465 + s), 2510, 3.5, insetG, "inset-eout-ladder-tick");
  drawText(xInset(51465 + s), 2475, insetLevelLabels[i], 42, "middle", insetG, "inset-eout-level-label");
});

// delta-G plot
const frame = mk("rect", {x: 201, y: 182.3, width: 1194, height: 960.4, fill: "none", stroke: "#000", "stroke-width": 4}, fitG);


fitXTicks.forEach(v => {
  drawLine(xFit(v), 1142.7, xFit(v), 1161, 4, fitG, "delta-g-x-tick");
  drawText(xFit(v), 1221, String(v), 57, "middle", fitG, "delta-g-x-tick-label");
});
fitYTicks.forEach(v => {
  drawLine(182, yFit(v), 201, yFit(v), 4, fitG, "delta-g-y-tick");
  drawText(169, yFit(v) + 19, String(v), 57, "end", fitG, "delta-g-y-tick-label");
});
fitYMinorTicks.forEach(v => {
  drawLine(191, yFit(v), 201, yFit(v), 4, fitG, "delta-g-y-minor-tick");
});
drawLine(xFit(fitLineX[0]), yFit(fitLineY[0]), xFit(fitLineX[1]), yFit(fitLineY[1]), 3.5, fitG, "linear-fit-line", {stroke: "#f00"});
levelNumbers.forEach((n, i) => {
  const x = xFit(n), y = deltaG[i], e = deltaGError[i];
  drawLine(x, yFit(y + e), x, yFit(y - e), 3.5, fitG, "error-bar");
  drawLine(x - 10, yFit(y + e), x + 10, yFit(y + e), 3.5, fitG, "error-bar-cap-top");
  drawLine(x - 10, yFit(y - e), x + 10, yFit(y - e), 3.5, fitG, "error-bar-cap-bottom");
  const c = mk("ellipse", {cx: x, cy: yFit(y), rx: 11, ry: 12, fill: "#000"}, fitG);
  
  
});
</script>
</svg>
</body>
</html>
